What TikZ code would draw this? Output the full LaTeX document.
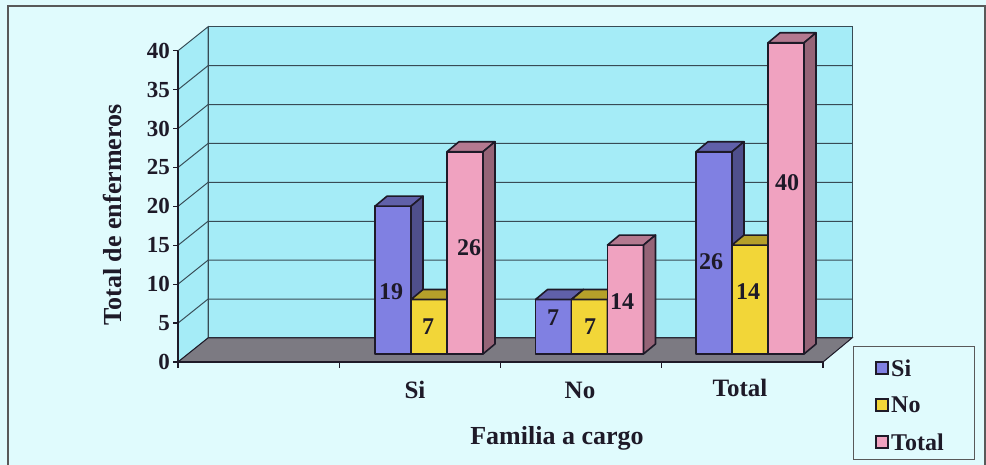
\documentclass[tikz,border=0pt]{standalone}
\usepackage{fontspec}
\setmainfont{Liberation Serif}

\definecolor{fondo}{RGB}{224,251,253}
\definecolor{pared}{RGB}{165,236,247}
\definecolor{suelo}{RGB}{124,122,130}
\definecolor{rejilla}{RGB}{55,75,85}
\definecolor{borde}{RGB}{30,26,40}
\definecolor{azul}{RGB}{128,128,226}
\definecolor{amarillo}{RGB}{242,214,56}
\definecolor{rosa}{RGB}{240,162,192}

% one 3d bar: left x, value, colour
\newcommand{\barra}[3]{%
  \filldraw[barra, fill=#3] (#1,111) rectangle (#1+36,{111+7.78*#2});
  \filldraw[barra, fill=#3!75!black] (#1,{111+7.78*#2}) -- (#1+12,{121+7.78*#2})
    -- (#1+48,{121+7.78*#2}) -- (#1+36,{111+7.78*#2}) -- cycle;
  \filldraw[barra, fill=#3!62!black] (#1+36,111) -- (#1+48,121)
    -- (#1+48,{121+7.78*#2}) -- (#1+36,{111+7.78*#2}) -- cycle;
}

\begin{document}
\begin{tikzpicture}[x=1pt, y=1pt,
  barra/.style={draw=borde, line width=1.6pt, line join=round},
  rejilla/.style={draw=rejilla, line width=1pt},
  eje/.style={draw=borde, line width=1.2pt},
  num/.style={font=\bfseries\fontsize{23}{25}\selectfont, text=borde, inner sep=1pt},
  dato/.style={font=\bfseries\fontsize{24}{26}\selectfont, text=borde, inner sep=0pt},
  titulo/.style={font=\bfseries\fontsize{26}{29}\selectfont, text=borde},
  leyenda/.style={draw=borde, line width=1.4pt}]
  \fill[fondo] (0,0) rectangle (986,465);
  \useasboundingbox (0,0) rectangle (986,465);
  \draw[line width=1.2pt, draw=gray!70!black] (8,-10) -- (8,459) -- (985,459) -- (985,-10);

  % walls and floor
  \filldraw[fill=pared, rejilla] (178,103) -- (208,127) -- (208,{127+7.78*40}) -- (178,{103+7.78*40}) -- cycle;
  \filldraw[fill=pared, rejilla] (208,127) rectangle (852,{127+7.78*40});
  \foreach \v in {5,10,...,35} {
    \draw[rejilla] (178,{103+7.78*\v}) -- (208,{127+7.78*\v}) -- (852,{127+7.78*\v});
  }
  \filldraw[fill=suelo, draw=borde, line width=1pt] (178,103) -- (823,103) -- (852,127) -- (208,127) -- cycle;

  % axes
  \draw[eje] (178,{103+7.78*40}) -- (178,103) -- (823,103);
  \foreach \v in {0,5,...,40} {
    \draw[eje] (173,{103+7.78*\v}) -- (178,{103+7.78*\v});
    \node[num, anchor=east] (y\v) at (171,{103+7.78*\v}) {\v};
  }
  \foreach \i in {0,...,4} \draw[eje] ({178+161.25*\i},103) -- ({178+161.25*\i},97);

  % bars
  \barra{375}{19}{azul}
  \barra{411}{7}{amarillo}
  \barra{447}{26}{rosa}
  \barra{535.5}{7}{azul}
  \barra{571.5}{7}{amarillo}
  \barra{607.5}{14}{rosa}
  \barra{696}{26}{azul}
  \barra{732}{14}{amarillo}
  \barra{768}{40}{rosa}

  % values
  \node[dato] (si-si) at (391,173) {19};
  \node[dato] (si-no) at (428,138) {7};
  \node[dato] (si-tot) at (469,217) {26};
  \node[dato] (no-si) at (553,147) {7};
  \node[dato] (no-no) at (590,138) {7};
  \node[dato] (no-tot) at (622,163) {14};
  \node[dato] (tot-si) at (711,203) {26};
  \node[dato] (tot-no) at (748,173) {14};
  \node[dato] (tot-tot) at (787,282) {40};

  % categories and titles
  \node[num, font=\bfseries\fontsize{25}{27}\selectfont] (cat-si) at (415,75) {Si};
  \node[num, font=\bfseries\fontsize{25}{27}\selectfont] (cat-no) at (580,75) {No};
  \node[num, font=\bfseries\fontsize{25}{27}\selectfont] (cat-tot) at (740,77) {Total};
  \node[titulo] (xtit) at (557,27) {Familia a cargo};
  \node[titulo, rotate=90] (ytit) at (112,250) {Total de enfermeros};

  % legend
  \draw[draw=gray!70!black, line width=1pt] (853,5) rectangle (974,118);
  \filldraw[leyenda, fill=azul] (876,91) rectangle (888,103);
  \filldraw[leyenda, fill=amarillo] (876,54) rectangle (888,66);
  \filldraw[leyenda, fill=rosa] (876,17) rectangle (888,29);
  \node[dato, anchor=west] (ley-si) at (891,97) {Si};
  \node[dato, anchor=west] (ley-no) at (891,60) {No};
  \node[dato, anchor=west] (ley-tot) at (891,23) {Total};
\end{tikzpicture}
\end{document}
